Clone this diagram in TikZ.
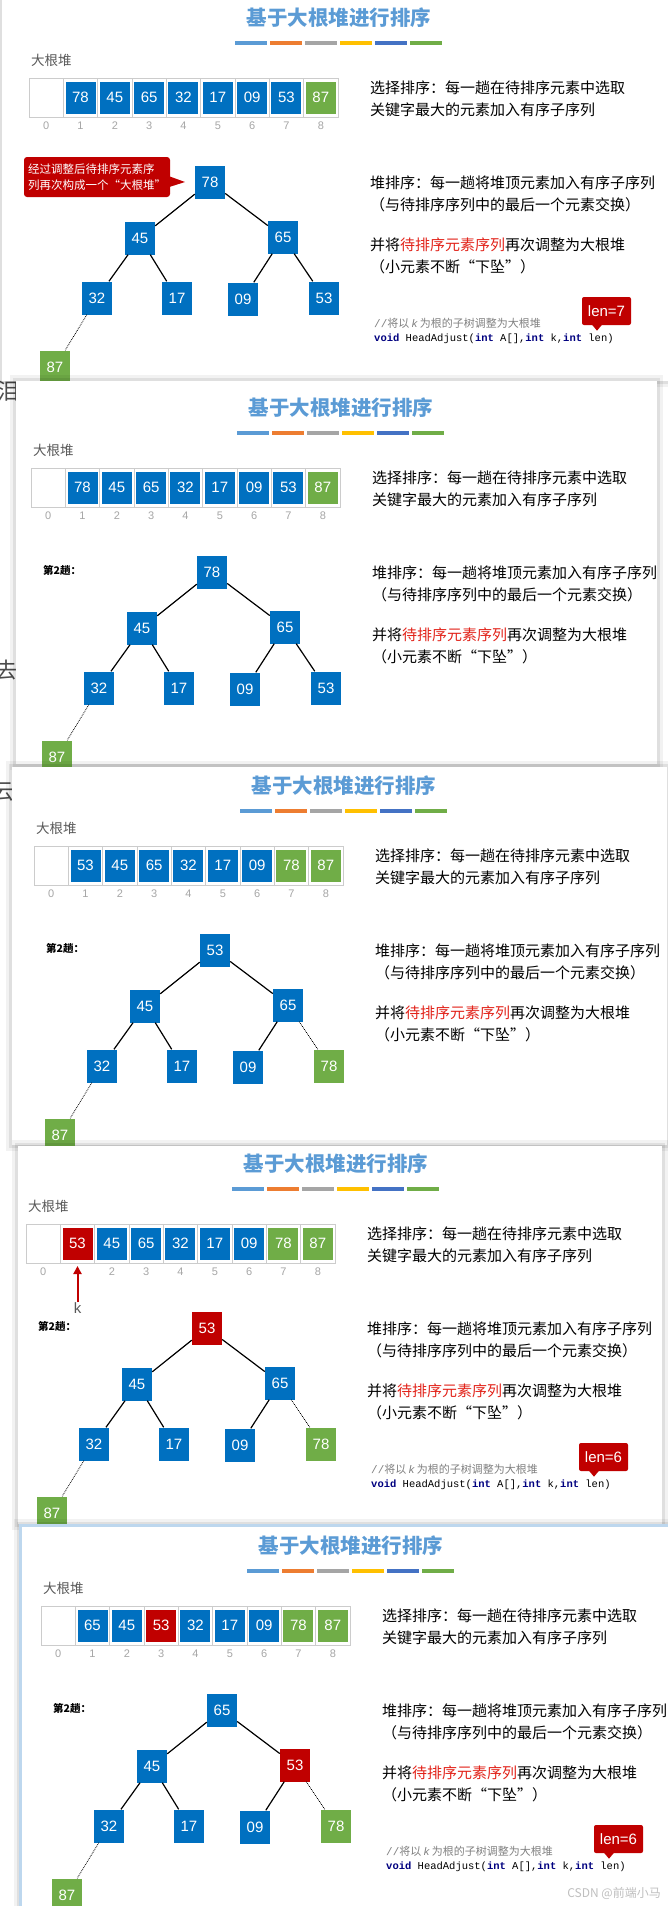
\documentclass[tikz,border=0pt]{standalone}
\usepackage{fontspec}
\newfontfamily\cjk{Noto Sans CJK SC}
\newfontfamily\numf{Liberation Sans}
\newfontfamily\codef{Liberation Mono}
\usetikzlibrary{arrows.meta,calc,positioning}

\definecolor{hblue}{HTML}{0070C0}
\definecolor{hred}{HTML}{C00000}
\definecolor{hgreen}{HTML}{70AD47}
\definecolor{titleblue}{HTML}{5B9BD5}
\definecolor{barA}{HTML}{5B9BD5}
\definecolor{barB}{HTML}{ED7D31}
\definecolor{barC}{HTML}{A5A5A5}
\definecolor{barD}{HTML}{FFC000}
\definecolor{barE}{HTML}{4472C4}
\definecolor{barF}{HTML}{70AD47}
\definecolor{textred}{HTML}{E2231A}
\definecolor{labelgray}{HTML}{595959}
\definecolor{idxgray}{HTML}{A6A6A6}
\definecolor{codeblue}{HTML}{000080}
\definecolor{commentgray}{HTML}{808080}
\definecolor{glowblue}{HTML}{BDD7EE}

\newcommand{\codekw}[1]{\textbf{\textcolor{codeblue}{#1}}}

% white slide with a soft shadow: x1, y1, x2, y2
\newcommand{\slideframe}[4]{%
  \fill[black, opacity=0.05] (#1-6,#2-6) rectangle (#3+6,#4+6);
  \fill[black, opacity=0.08] (#1-3,#2-3) rectangle (#3+3,#4+3);
  \fill[white] (#1,#2) rectangle (#3,#4);
}

% one slide: id, cells k/value/colour, last solid edge, index labels
\newcommand{\heapslide}[4]{%
  \node[titletext] (t#1) at (310,-60) {基于大根堆进行排序};
  \foreach \k/\col in {0/barA,1/barB,2/barC,3/barD,4/barE,5/barF}
    \fill[\col] ({206+35*\k},-37.5) rectangle ++(32,4.5);
  \node[graytext, anchor=west] (h#1) at (2,-18) {大根堆};
  \draw[cellline] (0,0) rectangle (309,39);
  \foreach \k in {1,...,8}
    \draw[cellline] ({34.33*\k},0) -- ++(0,39);
  \foreach \k in {#4}
    \node[idx] (i#1-\k) at ({17.17+34.33*\k},48) {\k};
  \foreach \k/\x/\y in {1/181/104,2/111/160,3/254/159,4/68/220,5/148/220,6/214/221,7/295/220,8/26/289}
    \coordinate (p\k) at (\x,\y);
  \foreach \k/\v/\c in {#2} {
    \node[cell=\c] (a#1-\k) at ({17.17+34.33*\k},19.5) {\v};
    \node[tnode=\c] (n#1-\k) at (p\k) {\v};
  }
  \foreach \k in {2,...,8} {
    \pgfmathtruncatemacro{\p}{\k/2}
    \ifnum\k>#3\relax \draw[dotline] (n#1-\p) -- (n#1-\k);
    \else \draw[treeline] (n#1-\p) -- (n#1-\k); \fi
  }
  \node[desc] (r#1a) at (341,10) {选择排序：每一趟在待排序元素中选取};
  \node[desc] (r#1b) at (341,32) {关键字最大的元素加入有序子序列};
  \node[desc] (r#1c) at (341,105) {堆排序：每一趟将堆顶元素加入有序子序列};
  \node[desc] (r#1d) at (341,127) {（与待排序序列中的最后一个元素交换）};
  \node[desc] (r#1e) at (341,167) {并将\textcolor{textred}{待排序元素序列}再次调整为大根堆};
  \node[desc] (r#1f) at (341,189) {（小元素不断“下坠”）};
}

% code line with the len badge: id, len
\newcommand{\headcode}[2]{%
  \node[commenttext] (c#1a) at (345,245) {{\codef//}将以 {\numf\itshape k} 为根的子树调整为大根堆};
  \node[codetext] (c#1b) at (345,261) {\codekw{void} HeadAdjust(\codekw{int} A[],\codekw{int} k,\codekw{int} len)};
  \node[lenbox] (l#1) at (577.5,233) {len=#2};
  \fill[hred] ($(l#1.south)+(-14.5,-0.5)$) -- ++(10,0) -- ++(-5,6) -- cycle;
}

\begin{document}
\begin{tikzpicture}[x=1pt, y=-1pt,
    titletext/.style={font=\cjk\bfseries\fontsize{20.5}{22}\selectfont, text=titleblue, inner sep=0},
    graytext/.style={font=\cjk\fontsize{13.5}{15}\selectfont, text=labelgray, inner sep=0},
    desc/.style={font=\cjk\fontsize{15}{17}\selectfont, anchor=west, inner sep=0},
    idx/.style={font=\numf\fontsize{11}{12}\selectfont, text=idxgray, inner sep=0},
    cellline/.style={draw=gray!40, line width=0.8pt},
    cell/.style={fill=#1, text=white, minimum width=30pt, minimum height=32pt, inner sep=0,
      font=\numf\fontsize{15}{15}\selectfont},
    tnode/.style={fill=#1, text=white, minimum width=30pt, minimum height=33pt, inner sep=0,
      font=\numf\fontsize{15}{15}\selectfont},
    treeline/.style={line width=1.2pt},
    dotline/.style={densely dotted, line width=0.8pt},
    passlabel/.style={font=\cjk\bfseries\fontsize{10.5}{12}\selectfont, anchor=west, inner sep=0},
    commenttext/.style={font=\cjk\fontsize{11}{12}\selectfont, text=commentgray, anchor=west, inner sep=0},
    codetext/.style={font=\codef\fontsize{10.5}{12}\selectfont, anchor=west, inner sep=0},
    lenbox/.style={fill=hred, text=white, rounded corners=2pt, minimum width=49pt, minimum height=28pt,
      inner sep=0, font=\numf\fontsize{15}{15}\selectfont},
    calloutbox/.style={fill=hred, text=white, rounded corners=3pt, minimum width=134pt, minimum height=40pt,
      inner sep=4pt, align=left, font=\cjk\fontsize{11.5}{16}\selectfont},
    pagebits/.style={font=\cjk\fontsize{22}{22}\selectfont, text=black!70, inner sep=0},
    watermark/.style={font=\cjk\fontsize{12}{12}\selectfont, text=black!25, anchor=east, inner sep=0}]
  \useasboundingbox (0,0) rectangle (668,1906);
  \fill[white] (0,0) rectangle (668,1906);
  % bits of the page behind the slides
  \node[pagebits] (bg1) at (9,391) {泪};
  \node[pagebits] (bg2) at (6,670) {去};
  \node[pagebits] (bg3) at (4,792) {云};

  % slide 1
  \slideframe{2}{-20}{720}{381}
  \begin{scope}[shift={(29,78)}]
    \heapslide{1}{1/78/hblue,2/45/hblue,3/65/hblue,4/32/hblue,5/17/hblue,6/09/hblue,7/53/hblue,8/87/hgreen}{7}{0,...,8}
    \node[calloutbox] (cb1) at (68,99) {经过调整后待排序元素序\\列再次构成一个“大根堆”};
    \fill[hred] (134,96) -- (156,104) -- (134,111) -- cycle;
    \headcode{1}{7}
  \end{scope}

  % slide 2
  \slideframe{16}{381}{657}{764}
  \begin{scope}[shift={(31,468)}]
    \heapslide{2}{1/78/hblue,2/45/hblue,3/65/hblue,4/32/hblue,5/17/hblue,6/09/hblue,7/53/hblue,8/87/hgreen}{7}{0,...,8}
    \node[passlabel] (s2) at (12,102) {第2趟：};
  \end{scope}

  % slide 3
  \slideframe{12}{767}{667}{1145}
  \begin{scope}[shift={(34,846)}]
    \heapslide{3}{1/53/hblue,2/45/hblue,3/65/hblue,4/32/hblue,5/17/hblue,6/09/hblue,7/78/hgreen,8/87/hgreen}{6}{0,...,8}
    \node[passlabel] (s3) at (12,102) {第2趟：};
  \end{scope}

  % slide 4
  \slideframe{18}{1146}{662}{1524}
  \begin{scope}[shift={(26,1224)}]
    \heapslide{4}{1/53/hred,2/45/hblue,3/65/hblue,4/32/hblue,5/17/hblue,6/09/hblue,7/78/hgreen,8/87/hgreen}{6}{0,2,3,4,5,6,7,8}
    \node[passlabel] (s4) at (12,102) {第2趟：};
    \node[font=\numf\fontsize{15}{15}\selectfont, text=labelgray, inner sep=0] (k4) at (51.5,84) {k};
    \coordinate (k4tip) at (51.5,42);
    \draw[hred, line width=2pt, -{Triangle[length=8pt,width=8pt]}] (k4.north) -- (k4tip);
    \headcode{4}{6}
  \end{scope}

  % slide 5
  \slideframe{20}{1525}{720}{1960}
  \draw[glowblue, line width=3pt] (20,1525) rectangle (720,1960);
  \begin{scope}[shift={(41,1606)}]
    \heapslide{5}{1/65/hblue,2/45/hblue,3/53/hred,4/32/hblue,5/17/hblue,6/09/hblue,7/78/hgreen,8/87/hgreen}{6}{0,...,8}
    \node[passlabel] (s5) at (12,102) {第2趟：};
    \headcode{5}{6}
  \end{scope}
  \node[watermark] (wm) at (661,1893) {CSDN @前端小马};
\end{tikzpicture}
\end{document}
